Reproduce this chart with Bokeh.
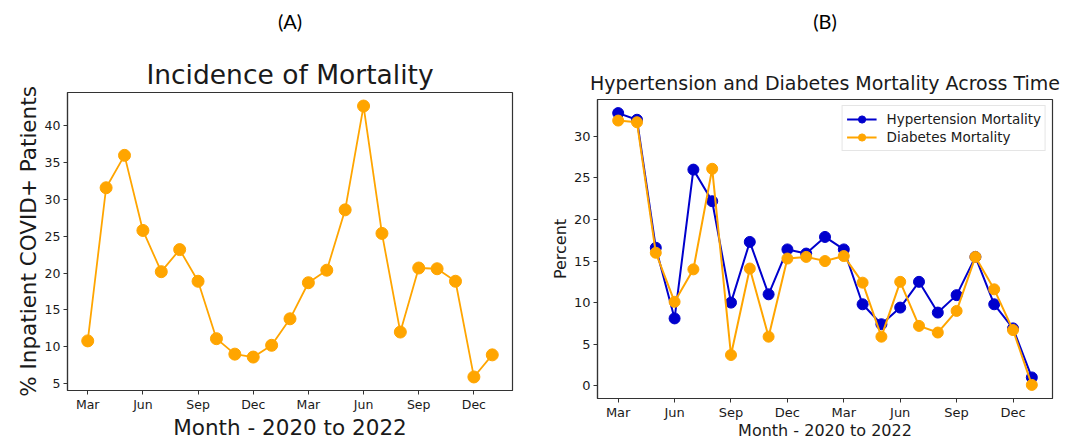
from bokeh.plotting import figure
from bokeh.layouts import row, column
from bokeh.models import Title, FixedTicker, Range1d, Legend, LegendItem
from bokeh.embed import file_html
from bokeh.resources import INLINE

# ---- data ----
months = ["Mar 2020", "Apr 2020", "May 2020", "Jun 2020", "Jul 2020", "Aug 2020",
          "Sep 2020", "Oct 2020", "Nov 2020", "Dec 2020", "Jan 2021", "Feb 2021",
          "Mar 2021", "Apr 2021", "May 2021", "Jun 2021", "Jul 2021", "Aug 2021",
          "Sep 2021", "Oct 2021", "Nov 2021", "Dec 2021", "Jan 2022"]
tick_months = ["Mar 2020", "Jun 2020", "Sep 2020", "Dec 2020",
               "Mar 2021", "Jun 2021", "Sep 2021", "Dec 2021"]
tick_labels = ["Mar", "Jun", "Sep", "Dec", "Mar", "Jun", "Sep", "Dec"]

mortality = [10.8, 31.6, 36.0, 25.8, 20.2, 23.2, 18.9, 11.1, 9.0, 8.6, 10.2, 13.8,
             18.7, 20.4, 28.6, 42.7, 25.4, 12.0, 20.7, 20.6, 18.9, 5.9, 8.9]
hypertension = [32.8, 32.0, 16.6, 8.1, 26.0, 22.2, 10.0, 17.3, 11.0, 16.4, 15.9, 17.9,
                16.4, 9.8, 7.4, 9.4, 12.5, 8.8, 10.9, 15.5, 9.8, 6.9, 1.0]
diabetes = [31.9, 31.7, 16.0, 10.1, 14.0, 26.1, 3.7, 14.1, 5.9, 15.3, 15.5, 15.0,
            15.6, 12.4, 5.9, 12.5, 7.2, 6.4, 9.0, 15.5, 11.6, 6.7, 0.1]
yticks_a = [5, 10, 15, 20, 25, 30, 35, 40]
yticks_b = [0, 5, 10, 15, 20, 25, 30]

x = list(range(len(months)))
tick_pos = [months.index(m) for m in tick_months]
overrides = {p: l for p, l in zip(tick_pos, tick_labels)}

ORANGE = "#FFA500"
BLUE = "#0000CD"
DEJAVU = "DejaVu Sans"
TXT = "#1a1a1a"


def pad_range(vals, frac=0.05):
    lo, hi = min(vals), max(vals)
    m = (hi - lo) * frac
    return Range1d(lo - m, hi + m)


def style(p, yticks, tick_size, label_size):
    p.xgrid.visible = False
    p.ygrid.visible = False
    p.outline_line_color = "#333333"
    p.outline_line_alpha = 1.0
    p.outline_line_width = 1.2
    p.background_fill_color = "white"
    p.border_fill_color = "white"
    for ax in (p.xaxis[0], p.yaxis[0]):
        ax.axis_line_color = "#333333"
        ax.axis_line_width = 1.2
        ax.major_tick_line_color = "#333333"
        ax.major_tick_out = 4
        ax.major_tick_in = 0
        ax.minor_tick_line_color = None
        ax.major_label_text_font = DEJAVU
        ax.major_label_text_font_size = tick_size
        ax.major_label_text_color = TXT
        ax.major_label_standoff = 3
        ax.axis_label_text_font = DEJAVU
        ax.axis_label_text_font_size = label_size
        ax.axis_label_text_font_style = "normal"
        ax.axis_label_text_color = TXT
        ax.axis_label_standoff = 1
    p.xaxis[0].ticker = FixedTicker(ticks=tick_pos)
    p.xaxis[0].major_label_overrides = overrides
    p.yaxis[0].ticker = FixedTicker(ticks=yticks)


def titles(p, head, head_offset, gap, main, main_size, main_standoff):
    # outer header "(A)" / "(B)"
    p.title.text = head
    p.title.text_font = "Lato"
    p.title.text_font_size = "20px"
    p.title.text_font_style = "normal"
    p.title.text_color = "black"
    p.title.align = "center"
    p.title.offset = head_offset
    p.title.standoff = 0
    # inner chart title (closest to the frame)
    p.add_layout(Title(text=main, align="center", text_font=DEJAVU,
                       text_font_size=main_size, text_font_style="normal",
                       text_color=TXT, standoff=main_standoff), "above")
    # blank gap between the chart title and the header
    p.add_layout(Title(text=" ", text_font_size="1px", standoff=gap), "above")


# ---- Panel A ----
pA = figure(width=540, height=442, output_backend="svg", toolbar_location=None,
            x_range=pad_range(x), y_range=pad_range(mortality),
            min_border_left=67, min_border_right=28, min_border_top=92,
            min_border_bottom=50)
titles(pA, "(A)", -30, 18, "Incidence of Mortality", "26.5px", 6)
style(pA, yticks_a, "12.5px", "21.5px")
pA.xaxis[0].axis_label_standoff = 0
pA.xaxis[0].major_label_standoff = 2
pA.xaxis.axis_label = "Month - 2020 to 2022"
pA.yaxis.axis_label = "% Inpatient COVID+ Patients"
pA.line(x, mortality, color=ORANGE, line_width=1.8)
pA.scatter(x, mortality, size=12, color=ORANGE)

# ---- Panel B ----
pB = figure(width=527, height=442, output_backend="svg", toolbar_location=None,
            x_range=pad_range(x), y_range=pad_range(hypertension + diabetes),
            min_border_left=57, min_border_right=15, min_border_top=99,
            min_border_bottom=43)
titles(pB, "(B)", 7, 28, "Hypertension and Diabetes Mortality Across Time", "19px", 12)
style(pB, yticks_b, "13px", "16px")
pB.xaxis[0].axis_label_standoff = -2
pB.xaxis[0].major_label_standoff = 2
pB.xaxis.axis_label = "Month - 2020 to 2022"
pB.yaxis.axis_label = "Percent"
lh = pB.line(x, hypertension, color=BLUE, line_width=2)
sh = pB.scatter(x, hypertension, size=11, color=BLUE)
lo = pB.line(x, diabetes, color=ORANGE, line_width=2)
so = pB.scatter(x, diabetes, size=11, color=ORANGE)
legend = Legend(items=[LegendItem(label="Hypertension Mortality", renderers=[lh, sh]),
                       LegendItem(label="Diabetes Mortality", renderers=[lo, so])],
                location="top_right", margin=6, padding=4, spacing=0,
                glyph_width=30, glyph_height=18, label_height=18, label_standoff=10,
                label_text_font=DEJAVU, label_text_font_size="13.5px",
                label_text_color=TXT, border_line_color="#cccccc",
                background_fill_alpha=0.8)
pB.add_layout(legend)

layout = row(column(pA), column(pB))
open("out.html", "w").write(file_html(layout, INLINE))
